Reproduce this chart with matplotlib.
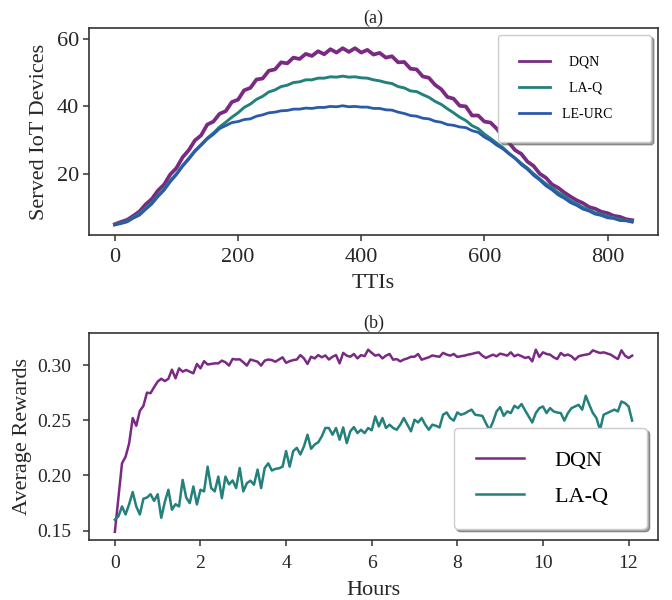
import numpy as np
import matplotlib
matplotlib.use("Agg")
import matplotlib.pyplot as plt

plt.rcParams['font.family'] = ['Liberation Serif', 'DejaVu Serif']

# ---- (a) served IoT devices per TTI (sampled every 10 TTIs) ----
ttis = np.arange(0, 841, 10)

dqn_served = [5.0, 5.7, 6.3, 7.5, 8.8, 10.9, 12.5, 15.0, 16.8, 19.8,
              21.7, 24.9, 27.0, 29.9, 31.4, 34.6, 35.5, 37.8, 38.6, 41.3,
              42.0, 44.8, 45.5, 48.0, 48.3, 50.6, 51.0, 53.1, 52.8, 54.5,
              54.1, 55.6, 55.0, 56.4, 55.5, 57.0, 56.0, 57.3, 56.2, 57.3,
              56.0, 56.8, 55.4, 55.9, 54.5, 54.9, 53.1, 53.2, 51.2, 51.0,
              48.9, 48.5, 46.4, 45.1, 42.8, 42.3, 40.2, 40.0, 37.3, 37.3,
              35.5, 35.2, 33.4, 31.0, 29.2, 27.0, 25.9, 23.6, 22.3, 20.0,
              18.8, 16.8, 15.8, 14.4, 13.2, 12.1, 11.3, 10.1, 9.6, 8.7,
              8.3, 7.5, 7.2, 6.5, 6.2]

laq_served = [4.9, 5.4, 5.9, 7.1, 8.2, 9.8, 11.4, 13.6, 15.5, 18.0,
              20.0, 22.5, 24.6, 26.9, 28.7, 30.6, 32.1, 33.9, 35.3, 36.8,
              38.1, 39.7, 40.7, 42.1, 43.0, 44.3, 44.9, 45.9, 46.3, 47.1,
              47.3, 47.9, 47.9, 48.4, 48.4, 48.8, 48.7, 49.0, 48.7, 48.8,
              48.5, 48.4, 47.9, 47.6, 47.1, 46.8, 45.9, 45.5, 44.6, 44.4,
              43.5, 42.7, 41.5, 40.6, 39.3, 38.1, 36.8, 35.8, 34.3, 33.4,
              31.8, 30.5, 29.1, 27.8, 26.1, 24.7, 23.1, 21.7, 20.0, 18.5,
              17.0, 15.9, 14.4, 13.4, 12.0, 11.1, 10.0, 9.3, 8.4, 8.0,
              7.3, 6.95, 6.4, 6.15, 5.8]

leurc_served = [4.8, 5.2, 5.7, 6.8, 7.7, 9.4, 11.0, 13.2, 15.1, 17.6,
                19.7, 22.2, 24.3, 26.6, 28.4, 30.3, 31.7, 33.4, 34.3, 35.2,
                35.5, 36.1, 36.3, 37.1, 37.5, 38.1, 38.3, 38.7, 38.8, 39.2,
                39.2, 39.5, 39.4, 39.7, 39.7, 40.0, 39.9, 40.2, 39.9, 40.0,
                39.8, 39.8, 39.4, 39.4, 39.0, 38.9, 38.3, 37.9, 37.3, 37.1,
                36.5, 36.3, 35.6, 35.3, 34.6, 34.4, 33.9, 33.7, 32.8, 32.3,
                30.9, 29.9, 28.5, 27.4, 25.9, 24.5, 22.7, 21.3, 19.5, 18.1,
                16.4, 15.2, 13.7, 12.7, 11.4, 10.6, 9.5, 8.9, 8.0, 7.6,
                6.9, 6.7, 6.1, 6.0, 5.6]

# ---- (b) average rewards, one value every 5 minutes ----
hours = np.arange(146) / 12

dqn_reward = [
    0.149, 0.180, 0.211, 0.217, 0.229, 0.252, 0.245, 0.2585, 0.263, 0.275, 0.2745, 0.280,
    0.285, 0.2876, 0.2855, 0.2875, 0.2958, 0.288, 0.297, 0.294, 0.2955, 0.294, 0.2925, 0.301,
    0.297, 0.3035, 0.3005, 0.301, 0.3015, 0.3015, 0.304, 0.3025, 0.2995, 0.3055, 0.3050, 0.3052,
    0.3025, 0.2995, 0.305, 0.3040, 0.303, 0.2995, 0.3040, 0.305, 0.3045, 0.303, 0.3050, 0.307,
    0.302, 0.3035, 0.3045, 0.305, 0.309, 0.3060, 0.301, 0.3075, 0.306, 0.309, 0.3070, 0.3087,
    0.305, 0.3075, 0.309, 0.3015, 0.311, 0.3085, 0.3075, 0.310, 0.306, 0.309, 0.3080, 0.3139,
    0.3110, 0.3085, 0.3094, 0.3060, 0.3085, 0.3100, 0.3048, 0.3054, 0.3033, 0.3050, 0.3060, 0.3075,
    0.3075, 0.310, 0.3048, 0.306, 0.307, 0.3087, 0.3080, 0.3075, 0.311, 0.3095, 0.3085, 0.3100,
    0.3073, 0.3080, 0.3085, 0.3094, 0.3100, 0.3109, 0.3115, 0.3085, 0.3064, 0.3080, 0.3094, 0.3079,
    0.3103, 0.3095, 0.3085, 0.3115, 0.3079, 0.3094, 0.3080, 0.3064, 0.3073, 0.3033, 0.3139, 0.3073,
    0.3115, 0.3100, 0.3094, 0.3070, 0.3054, 0.3109, 0.3085, 0.3095, 0.3079, 0.3048, 0.3079, 0.3088,
    0.3094, 0.3100, 0.3133, 0.3120, 0.3109, 0.3115, 0.3105, 0.3094, 0.3073, 0.3054, 0.3133, 0.3085,
    0.3064, 0.3085]

laq_reward = [
    0.160, 0.163, 0.172, 0.1647, 0.174, 0.185, 0.172, 0.1647, 0.179, 0.180, 0.183, 0.177,
    0.183, 0.1617, 0.176, 0.1871, 0.169, 0.174, 0.172, 0.196, 0.180, 0.175, 0.190, 0.1738,
    0.1871, 0.1856, 0.208, 0.1886, 0.1856, 0.199, 0.1795, 0.199, 0.192, 0.1955, 0.1886, 0.2068,
    0.1856, 0.193, 0.1953, 0.1917, 0.2053, 0.1886, 0.2068, 0.2110, 0.2045, 0.2060, 0.2065, 0.2080,
    0.2221, 0.2080, 0.2221, 0.2250, 0.2190, 0.2263, 0.2369, 0.2242, 0.2280, 0.2300, 0.2354, 0.2430,
    0.2430, 0.2369, 0.2430, 0.2324, 0.2435, 0.2293, 0.2400, 0.2438, 0.2384, 0.2414, 0.2384, 0.2430,
    0.2409, 0.2535, 0.2444, 0.2520, 0.2430, 0.2460, 0.2430, 0.2414, 0.2460, 0.2520, 0.2460, 0.2400,
    0.2505, 0.2480, 0.2520, 0.2460, 0.2414, 0.2460, 0.2450, 0.2435, 0.2550, 0.2571, 0.2520, 0.2497,
    0.2571, 0.2550, 0.2560, 0.2580, 0.2596, 0.2550, 0.2545, 0.2540, 0.2474, 0.2412, 0.2487, 0.2580,
    0.2619, 0.2540, 0.2580, 0.2565, 0.2631, 0.2610, 0.2647, 0.2589, 0.2534, 0.2480, 0.2565, 0.2610,
    0.2625, 0.2565, 0.2610, 0.2580, 0.2570, 0.2565, 0.2497, 0.2565, 0.2610, 0.2625, 0.2640, 0.2596,
    0.2722, 0.2640, 0.2565, 0.2520, 0.2412, 0.2550, 0.2565, 0.2580, 0.2596, 0.2580, 0.2670, 0.2655,
    0.2625, 0.2497]

c_dqn = '#7b2a84'
c_laq = '#23807b'
c_leurc = '#2b5aab'
spine_c = '#333333'
text_c = '#262626'

fig = plt.figure(figsize=(6.72, 6), dpi=100)
ax1 = fig.add_axes([89 / 672, 1 - 235 / 600, 569 / 672, 207 / 600])
ax2 = fig.add_axes([89 / 672, 1 - 540 / 600, 569 / 672, 207 / 600])


def style(ax, size, xpad, ypad):
    for s in ax.spines.values():
        s.set_color(spine_c)
        s.set_linewidth(1.2)
    ax.tick_params(direction='out', length=4.5, width=1.1, color=spine_c,
                   labelsize=size, labelcolor=text_c)
    ax.tick_params(axis='x', pad=xpad)
    ax.tick_params(axis='y', pad=ypad)


# top panel
ax1.plot(ttis, dqn_served, color=c_dqn, lw=2.7, label='  DQN')
ax1.plot(ttis, laq_served, color=c_laq, lw=2.1, label='  LA-Q')
ax1.plot(ttis, leurc_served, color=c_leurc, lw=2.0, label='LE-URC     ')
ax1.set_ylim(1.8, 63.3)
ax1.set_xticks([0, 200, 400, 600, 800])
ax1.set_yticks([20, 40, 60])
style(ax1, 16, 5, 2.5)
ax1.set_xlabel('TTIs', fontsize=16, color=text_c, labelpad=5)
ax1.set_ylabel('Served IoT Devices', fontsize=16, color=text_c, labelpad=6)
ax1.set_title('(a)', fontsize=13, color=text_c, pad=4)
leg1 = ax1.legend(loc='upper right', fontsize=10, borderpad=1.5, labelspacing=0.95,
                  handlelength=2.2, handletextpad=0.9, framealpha=1,
                  shadow=True, edgecolor='0.8')
for line in leg1.get_lines():
    line.set_linewidth(2.0)

# bottom panel
ax2.plot(hours, dqn_reward, color=c_dqn, lw=1.8, label='DQN')
ax2.plot(hours, laq_reward, color=c_laq, lw=1.8, label='LA-Q   ')
ax2.set_ylim(0.1416, 0.329)
ax2.set_xticks(range(0, 13, 2))
ax2.set_yticks([0.15, 0.20, 0.25, 0.30])
style(ax2, 14, 6.5, 8)
ax2.set_xlabel('Hours', fontsize=16, color=text_c, labelpad=6)
ax2.set_ylabel('Average Rewards', fontsize=16, color=text_c, labelpad=4)
ax2.set_title('(b)', fontsize=13, color=text_c, pad=4)
leg2 = ax2.legend(loc='lower right', fontsize=16, borderpad=1.0, labelspacing=0.7,
                  handlelength=2.15, handletextpad=1.4, framealpha=1,
                  shadow=True, edgecolor='0.8')
for line in leg2.get_lines():
    line.set_linewidth(1.8)

fig.savefig('out.png', dpi=100)
